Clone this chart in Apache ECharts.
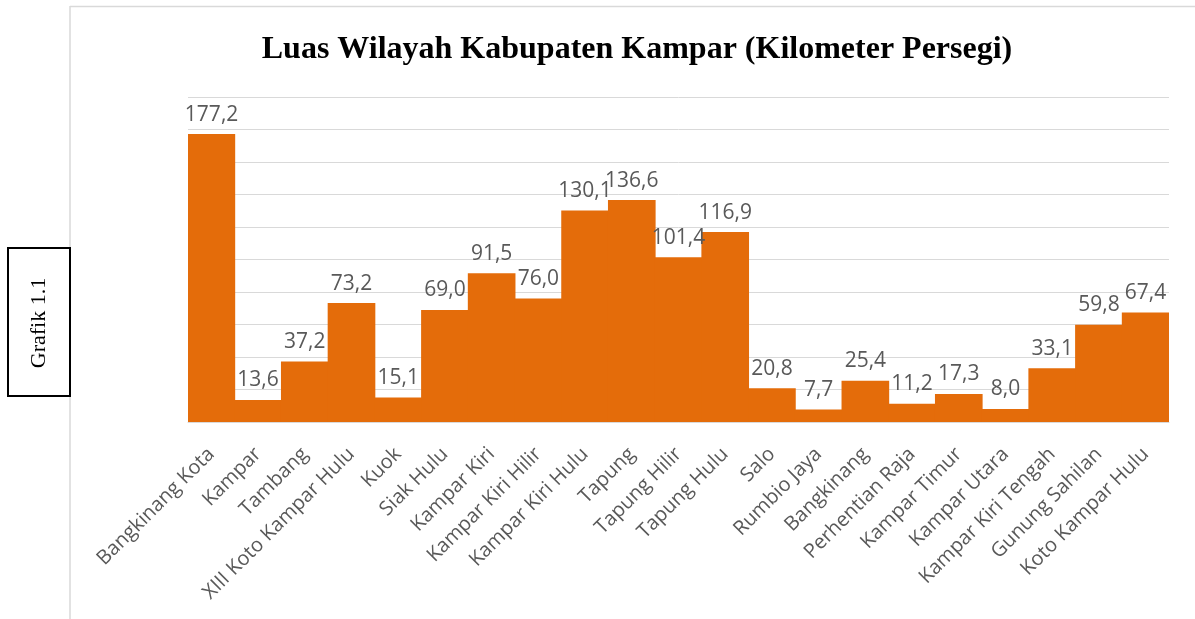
<!DOCTYPE html>
<html>
<head>
<meta charset="utf-8">
<script src="https://cdn.jsdelivr.net/npm/echarts@6/dist/echarts.min.js"></script>
<style>
html,body{margin:0;padding:0;background:#fff;}
#c{width:1195px;height:619px;}
</style>
</head>
<body>
<div id="c"></div>
<script>
const titleText = 'Luas Wilayah Kabupaten Kampar (Kilometer Persegi)';
const sideLabel = 'Grafik 1.1';
const categories = ['Bangkinang Kota','Kampar','Tambang','XIII Koto Kampar Hulu','Kuok','Siak Hulu','Kampar Kiri','Kampar Kiri Hilir','Kampar Kiri Hulu','Tapung','Tapung Hilir','Tapung Hulu','Salo','Rumbio Jaya','Bangkinang','Perhentian Raja','Kampar Timur','Kampar Utara','Kampar Kiri Tengah','Gunung Sahilan','Koto Kampar Hulu'];
const values = [177.2,13.6,37.2,73.2,15.1,69.0,91.5,76.0,130.1,136.6,101.4,116.9,20.8,7.7,25.4,11.2,17.3,8.0,33.1,59.8,67.4];
const yMin = 0, yMax = 200, yStep = 20;

const chart = echarts.init(document.getElementById('c'), null, {renderer:'canvas'});
chart.setOption({
  animation:false,
  backgroundColor:'#ffffff',
  title:{
    text:titleText,
    left:632, top:29, textAlign:'center',
    textStyle:{fontFamily:'Liberation Serif', fontWeight:'bold', fontSize:32, color:'#000'}
  },
  grid:{left:188, right:26, top:97, bottom:197, containLabel:false},
  xAxis:{
    type:'category', data:categories,
    axisLine:{show:true, lineStyle:{color:'#d9d9d9'}},
    axisTick:{show:false},
    axisLabel:{rotate:45, interval:0, margin:29, color:'#595959', fontFamily:'Open Sans', fontSize:20}
  },
  yAxis:{
    type:'value', min:yMin, max:yMax, interval:yStep,
    axisLabel:{show:false}, axisLine:{show:false}, axisTick:{show:false},
    splitLine:{lineStyle:{color:'#d9d9d9', width:1}}
  },
  series:[{
    type:'bar', data:values, barCategoryGap:'0%', barWidth:'102%',
    itemStyle:{color:'#E46C0A'},
    label:{show:true, position:'top', distance:9, color:'#595959', fontFamily:'Open Sans', fontSize:21,
      formatter:p=>p.value.toFixed(1).replace('.',',')}
  }],
  graphic:[
    {type:'line', shape:{x1:70, y1:6.5, x2:1195, y2:6.5}, style:{stroke:'#d9d9d9', lineWidth:1.5}, silent:true},
    {type:'line', shape:{x1:70, y1:6, x2:70, y2:619}, style:{stroke:'#d9d9d9', lineWidth:1.5}, silent:true},
    {type:'rect', shape:{x:8, y:248, width:62, height:148}, style:{fill:'#fff', stroke:'#000', lineWidth:2}, silent:true},
    {type:'text', x:39, y:323, rotation:Math.PI/2,
      style:{text:sideLabel, fontFamily:'Liberation Serif', fontSize:22, fill:'#000', align:'center', verticalAlign:'middle'}, silent:true}
  ]
});
</script>
</body>
</html>
